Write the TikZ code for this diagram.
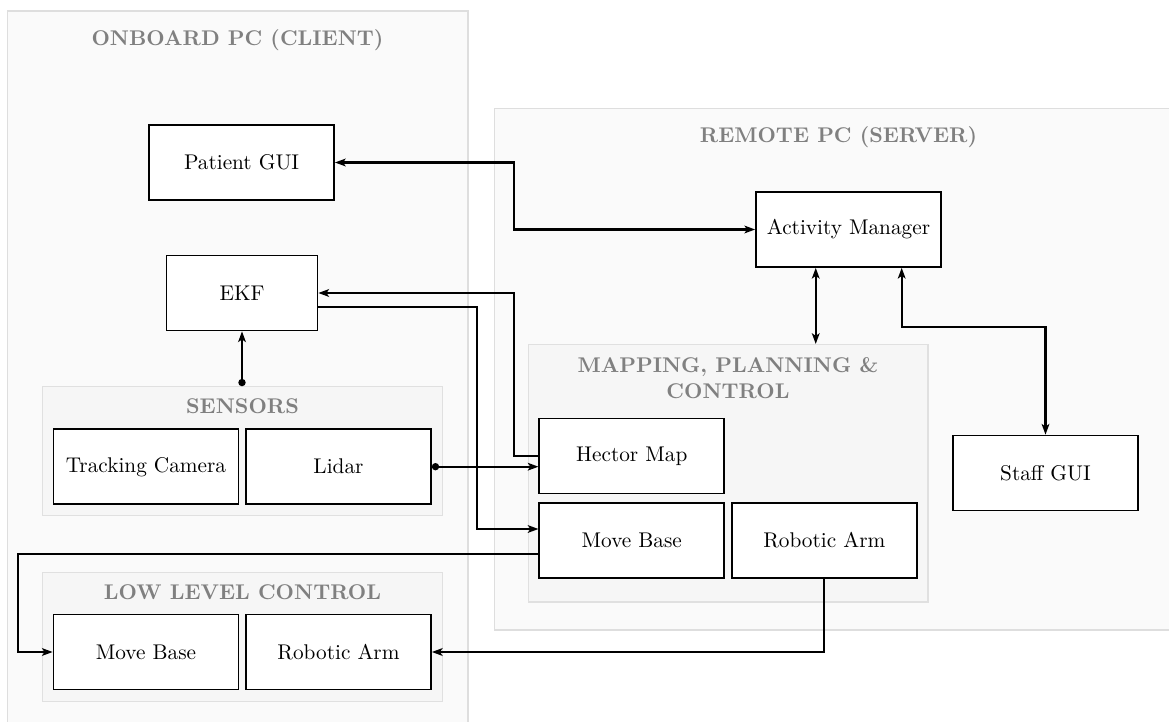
\documentclass[tikz,border=0pt]{standalone}
\usetikzlibrary{arrows.meta}
\begin{document}
\begin{tikzpicture}[x=0.47pt,y=-0.47pt,
 box/.style={draw=black,line width=0.8pt,fill=white,minimum width=86.95pt,minimum height=35.25pt,inner sep=2pt},
 grpbox/.style={inner sep=0pt,line width=0.5pt},
 outergrp/.style={grpbox,draw=black!13,fill=black!2},
 innergrp/.style={grpbox,draw=black!12,fill=black!3.5},
 grptitle/.style={text=black!50,font=\bfseries,align=center},
 tip/.tip={Stealth[length=5pt,width=3.6pt,inset=1.2pt]},
 conn/.style={line width=1.05pt,-tip},
 biconn/.style={line width=1.05pt,tip-tip},
 dotconn/.style={line width=1.05pt,{Circle[length=3.4pt]}-tip}]
\clip (0,0) rectangle (1169,722);
\useasboundingbox (0,0) rectangle (1169,722);
\fill[white] (0,0) rectangle (1169,722);

% groups
\node[outergrp,minimum width=460.5*0.47pt,minimum height=729*0.47pt] (onboard) at (237.75,375.5) {};
\node[outergrp,minimum width=690.5*0.47pt,minimum height=521.4*0.47pt] (remote) at (839.75,369.3) {};
\node[innergrp,minimum width=399.9*0.47pt,minimum height=128.6*0.47pt] (sensors) at (242.45,451) {};
\node[innergrp,minimum width=399.9*0.47pt,minimum height=129*0.47pt] (lowctl) at (242.45,636.8) {};
\node[innergrp,minimum width=399.7*0.47pt,minimum height=257.5*0.47pt] (mapping) at (728.15,473.25) {};

\node[grptitle] (tonboard) at (237.5,40) {ONBOARD PC (CLIENT)};
\node[grptitle] (tremote) at (838.5,137.5) {REMOTE PC (SERVER)};
\node[grptitle] (tsensors) at (242.5,406.5) {SENSORS};
\node[grptitle] (tlowctl) at (242.5,592) {LOW LEVEL CONTROL};
\node[grptitle] (tmapping) at (728,378) {MAPPING, PLANNING \&\\CONTROL};

% boxes
\node[box] (pgui) at (241.6,162.5) {Patient GUI};
\node[box,minimum width=151*0.47pt] (ekf) at (242,293) {EKF};
\node[box] (tcam) at (146,466.7) {Tracking Camera};
\node[box] (lidar) at (338.5,466.7) {Lidar};
\node[box] (lmb) at (146,652) {Move Base};
\node[box] (lra) at (338.5,652) {Robotic Arm};
\node[box] (am) at (848.5,229.5) {Activity Manager};
\node[box] (hector) at (631.8,456) {Hector Map};
\node[box] (rmb) at (631.8,540.5) {Move Base};
\node[box] (rra) at (824.3,540.5) {Robotic Arm};
\node[box] (staff) at (1045.5,473) {Staff GUI};

% bend coordinates
\coordinate (xa) at (514,0);
\coordinate (xb) at (477,0);
\coordinate (xc) at (18,0);
\coordinate (yd) at (0,327);

% connectors
\draw[biconn] (pgui.east) -- (pgui.east -| xa) -- (xa |- am.west) -- (am.west);
\draw[conn] (hector.west) -- (hector.west -| xa) -- (xa |- ekf.east) -- (ekf.east);
\draw[conn] ([yshift=-6.7pt]ekf.east) -- ([yshift=-6.7pt]ekf.east -| xb) -- ([yshift=5.4pt]xb |- rmb.west) -- ([yshift=5.4pt]rmb.west);
\draw[dotconn] (ekf.south |- sensors.north) -- (ekf.south);
\draw[dotconn] (lidar.east) -- (lidar.east -| hector.west);
\draw[conn] ([yshift=-6.25pt]rmb.west) -- ([yshift=-6.25pt]rmb.west -| xc) -- (xc |- lmb.west) -- (lmb.west);
\draw[conn] (rra.south) -- (rra.south |- lra.east) -- (lra.east);
\draw[biconn] ([xshift=-15.4pt]am.south) -- ([xshift=-15.4pt]am.south |- mapping.north);
\draw[biconn] ([xshift=25pt]am.south) -- ([xshift=25pt]am.south |- yd) -- (yd -| staff.north) -- (staff.north);
\end{tikzpicture}
\end{document}
